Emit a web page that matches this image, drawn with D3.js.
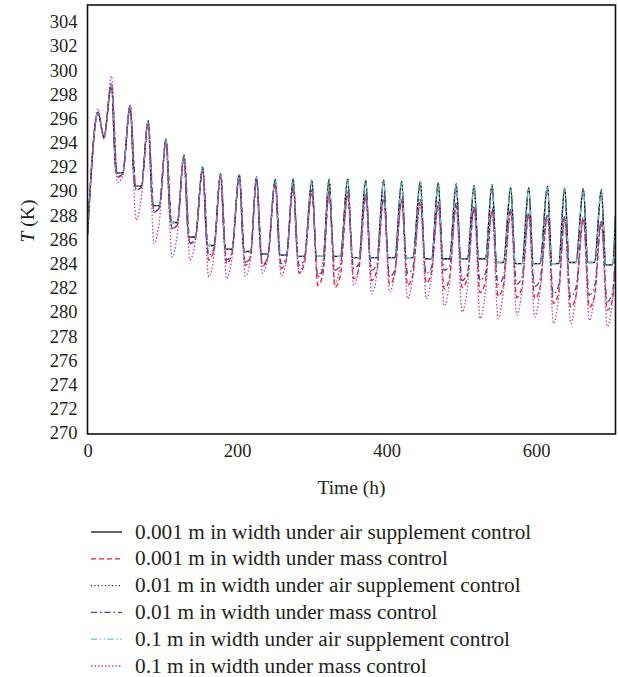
<!DOCTYPE html>
<html>
<head>
<meta charset="utf-8">
<script src="https://cdn.jsdelivr.net/npm/d3@7"></script>
<style>
  body { margin: 0; background: #fff; }
  text { font-family: "Liberation Serif", "Times New Roman", serif; fill: #231f20; }
</style>
</head>
<body>
<script>
// ------------------------------------------------------------
// T (K) vs time (h), six runs: width x control strategy
// values read off the daily cycles (peak / low / start of rise)
// ------------------------------------------------------------

var xTicks = [0, 200, 400, 600];
var yTicks = [270, 272, 274, 276, 278, 280, 282, 284, 286, 288, 290, 292, 294, 296, 298, 300, 302, 304];

// start of the run (before the first full cycle)
var headTimes = [0, 14, 22];
// time of each daily peak (h)
var peakTimes = [32, 57, 81, 105, 129, 154, 178, 203, 226, 251, 275, 300, 323, 348,
                 372, 396, 420, 445, 469, 493, 517, 541, 566, 590, 615, 638, 663, 687];
var tailTime = 706;

// hours after the peak for [low, start of rise]
var airShape = [6, 15];
var massShape = [8, 15];

// 0.001 m, air supplement control
var air001Head = [286.4, 296.5, 294.5];
var air001Peaks = [298.85, 297.05, 295.8, 294.3, 293.0, 292.0, 291.45, 291.35, 291.2, 291.0, 291.0, 290.9, 291.0, 291.0,
                   290.9, 290.9, 290.8, 290.8, 290.7, 290.6, 290.45, 290.55, 290.3, 290.25, 290.4, 290.25, 290.2, 290.1];
var air001Lows = [291.5, 290.4, 288.8, 287.4, 286.2, 285.5, 285.2, 285.0, 284.8, 284.7, 284.6, 284.6, 284.6, 284.5,
                  284.5, 284.5, 284.5, 284.4, 284.4, 284.4, 284.4, 284.1, 284.0, 284.0, 284.0, 284.1, 284.1, 283.9];

// 0.001 m, mass control
var mass001Head = [286.4, 296.5, 294.4];
var mass001Peaks = [298.8, 297.0, 295.7, 294.2, 292.9, 291.9, 291.4, 291.3, 290.9, 290.6, 290.3, 289.9, 289.8, 289.7,
                    289.5, 289.4, 289.2, 289.1, 288.9, 288.8, 288.6, 288.4, 288.3, 288.1, 288.0, 287.8, 287.7, 287.5];
var mass001Lows = [291.15, 290.1, 288.25, 286.9, 285.65, 284.3, 284.0, 283.85, 283.8, 283.6, 283.2, 282.2, 282.05, 282.75,
                   282.6, 282.3, 282.2, 282.4, 281.9, 282.0, 281.6, 281.3, 281.2, 281.1, 280.7, 280.4, 280.4, 280.15];
var mass001Rises = [291.4, 290.3, 288.6, 287.2, 286.0, 285.1, 284.8, 284.6, 284.5, 284.3, 284.0, 283.2, 283.0, 283.6,
                    283.5, 283.2, 283.1, 283.3, 282.8, 282.9, 282.5, 282.2, 282.1, 282.0, 281.6, 281.3, 281.3, 281.0];

// 0.01 m, air supplement control
var air01Head = [286.4, 296.5, 294.5];
var air01Peaks = [298.85, 297.05, 295.8, 294.3, 293.0, 292.0, 291.45, 291.35, 291.2, 291.0, 291.0, 290.9, 291.0, 291.0,
                  290.9, 290.9, 290.8, 290.8, 290.7, 290.6, 290.45, 290.55, 290.3, 290.25, 290.4, 290.25, 290.2, 290.1];
var air01Lows = [291.5, 290.4, 288.8, 287.4, 286.2, 285.5, 285.2, 285.0, 284.8, 284.7, 284.6, 284.6, 284.6, 284.5,
                 284.5, 284.5, 284.5, 284.4, 284.4, 284.4, 284.4, 284.1, 284.0, 284.0, 284.0, 284.1, 284.1, 283.9];

// 0.01 m, mass control
var mass01Head = [286.4, 296.5, 294.4];
var mass01Peaks = [298.85, 297.05, 295.75, 294.25, 292.95, 291.95, 291.4, 291.3, 291.0, 290.8, 290.5, 290.1, 290.0, 289.9,
                   289.7, 289.6, 289.4, 289.3, 289.1, 289.0, 288.8, 288.6, 288.5, 288.2, 288.1, 287.9, 287.8, 287.6];
var mass01Lows = [291.2, 290.1, 288.3, 286.9, 285.7, 284.7, 284.3, 284.1, 283.9, 284.0, 283.85, 282.9, 283.45, 283.6,
                  283.45, 282.9, 283.2, 283.2, 283.45, 282.6, 282.6, 282.3, 282.3, 282.1, 281.5, 281.25, 281.4, 280.85];
var mass01Rises = [291.4, 290.3, 288.6, 287.2, 286.0, 285.2, 284.9, 284.6, 284.5, 284.5, 284.4, 283.6, 283.9, 284.0,
                   283.9, 283.5, 283.7, 283.7, 283.8, 283.2, 283.2, 282.9, 282.9, 282.7, 282.2, 282.0, 282.1, 281.6];

// 0.1 m, air supplement control
var air1Head = [286.4, 296.5, 294.5];
var air1Peaks = [298.8, 297.1, 295.8, 294.3, 293.0, 292.0, 291.5, 291.35, 291.2, 291.0, 291.0, 290.9, 291.0, 291.0,
                 290.9, 290.9, 290.8, 290.8, 290.7, 290.6, 290.45, 290.55, 290.3, 290.25, 290.4, 290.25, 290.2, 290.1];
var air1Lows = [291.5, 290.4, 288.8, 287.4, 286.2, 285.5, 285.2, 285.0, 284.8, 284.7, 284.6, 284.6, 284.6, 284.5,
                284.5, 284.5, 284.5, 284.4, 284.4, 284.4, 284.4, 284.1, 284.0, 284.0, 284.0, 284.1, 284.1, 283.9];

// 0.1 m, mass control
var mass1Head = [286.3, 296.8, 294.3];
var mass1Peaks = [299.5, 297.1, 295.6, 294.0, 292.7, 291.7, 291.2, 291.1, 290.8, 290.5, 290.2, 289.8, 289.7, 289.6,
                  289.4, 289.3, 289.1, 289.0, 288.8, 288.7, 288.5, 288.3, 288.2, 288.0, 287.9, 287.7, 287.6, 287.4];
var mass1Lows = [290.7, 287.6, 285.65, 284.55, 284.3, 282.9, 282.75, 282.95, 283.2, 283.0, 283.2, 282.9, 282.35, 282.2,
                 281.5, 281.65, 281.1, 281.1, 280.5, 280.0, 279.45, 279.45, 279.75, 279.6, 279.05, 279.05, 279.3, 278.8];
var mass1Rises = [291.2, 289.5, 287.5, 286.4, 285.8, 284.6, 284.4, 284.4, 284.5, 284.4, 284.5, 284.3, 283.9, 283.8,
                  283.2, 283.3, 282.9, 282.9, 282.4, 282.0, 281.6, 281.6, 281.8, 281.7, 281.2, 281.2, 281.4, 281.0];

var series = [
    { name: "0.001 m in width under air supplement control", head: air001Head, peaks: air001Peaks, lows: air001Lows, rises: air001Lows, shape: airShape, tail: 288.0, color: "#111111", dash: null, width: 1.4 },
    { name: "0.001 m in width under mass control", head: mass001Head, peaks: mass001Peaks, lows: mass001Lows, rises: mass001Rises, shape: massShape, tail: 285.0, color: "#ed1c24", dash: "5,3", width: 1.3 },
    { name: "0.01 m in width under air supplement control", head: air01Head, peaks: air01Peaks, lows: air01Lows, rises: air01Lows, shape: airShape, tail: 288.0, color: "#111111", dash: "1,2.5", width: 1.3 },
    { name: "0.01 m in width under mass control", head: mass01Head, peaks: mass01Peaks, lows: mass01Lows, rises: mass01Rises, shape: massShape, tail: 285.4, color: "#3a4ca6", dash: "6,3,1.5,3", width: 1.3 },
    { name: "0.1 m in width under air supplement control", head: air1Head, peaks: air1Peaks, lows: air1Lows, rises: air1Lows, shape: airShape, tail: 288.0, color: "#5cc6d6", dash: "6,2.5,1.5,2.5,1.5,2.5", width: 1.1 },
    { name: "0.1 m in width under mass control", head: mass1Head, peaks: mass1Peaks, lows: mass1Lows, rises: mass1Rises, shape: massShape, tail: 284.6, color: "#c13fae", dash: "1.5,2", width: 1.3 }
];

// Layout
var w = 618, h = 677;
var plotLeft = 87.5, plotRight = 615.5, plotTop = 5, plotBottom = 434;

var svg = d3.select("body").append("svg")
    .attr("width", w)
    .attr("height", h);

var x = d3.scaleLinear().domain([0, 706]).range([plotLeft, plotRight]);
var y = d3.scaleLinear().domain([270, 304]).range([433, 21.7]);

function buildPoints(s) {
    var pts = headTimes.map(function(t, i) { return [t, s.head[i]]; });
    peakTimes.forEach(function(t, k) {
        pts.push([t, s.peaks[k]]);
        pts.push([t + s.shape[0], s.lows[k]]);
        pts.push([t + s.shape[1], s.rises[k]]);
    });
    pts.push([tailTime, s.tail]);
    return pts;
}

svg.append("clipPath").attr("id", "plot-clip")
    .append("rect")
    .attr("x", plotLeft)
    .attr("y", plotTop)
    .attr("width", plotRight - plotLeft)
    .attr("height", plotBottom - plotTop);

var line = d3.line()
    .x(function(d) { return x(d[0]); })
    .y(function(d) { return y(d[1]); })
    .curve(d3.curveMonotoneX);

// Curves
var curves = svg.append("g").attr("clip-path", "url(#plot-clip)");
series.forEach(function(s) {
    curves.append("path")
        .datum(buildPoints(s))
        .attr("fill", "none")
        .attr("stroke", s.color)
        .attr("stroke-width", s.width)
        .attr("stroke-dasharray", s.dash)
        .attr("d", line);
});

// Frame
svg.append("rect")
    .attr("x", plotLeft)
    .attr("y", plotTop)
    .attr("width", plotRight - plotLeft)
    .attr("height", plotBottom - plotTop)
    .attr("fill", "none")
    .attr("stroke", "#111")
    .attr("stroke-width", 1.6);

// Axes (labels only, no tick marks)
var yAxis = svg.append("g")
    .attr("transform", "translate(" + plotLeft + ",0)")
    .call(d3.axisLeft(y).tickValues(yTicks).tickSize(0).tickPadding(10));
var xAxis = svg.append("g")
    .attr("transform", "translate(0," + plotBottom + ")")
    .call(d3.axisBottom(x).tickValues(xTicks).tickSize(0).tickPadding(10));
[xAxis, yAxis].forEach(function(a) {
    a.attr("font-family", null).attr("font-size", null);
    a.select(".domain").remove();
    a.selectAll("text").style("font-size", "18.5px");
});

svg.append("text")
    .attr("x", (plotLeft + plotRight) / 2)
    .attr("y", 494)
    .attr("text-anchor", "middle")
    .style("font-size", "19.5px")
    .text("Time (h)");

var yTitle = svg.append("text")
    .attr("transform", "translate(34,221) rotate(-90)")
    .attr("text-anchor", "middle")
    .style("font-size", "19.5px");
yTitle.append("tspan").style("font-style", "italic").text("T");
yTitle.append("tspan").text(" (K)");

// Legend
var legend = svg.append("g");
series.forEach(function(s, i) {
    var ly = 532 + i * 26.8;
    legend.append("line")
        .attr("x1", 91)
        .attr("x2", 122)
        .attr("y1", ly)
        .attr("y2", ly)
        .attr("stroke", s.color)
        .attr("stroke-width", 1.3)
        .attr("stroke-dasharray", s.dash);
    legend.append("text")
        .attr("x", 135)
        .attr("y", ly + 6.5)
        .style("font-size", "21.3px")
        .text(s.name);
});
</script>
</body>
</html>
